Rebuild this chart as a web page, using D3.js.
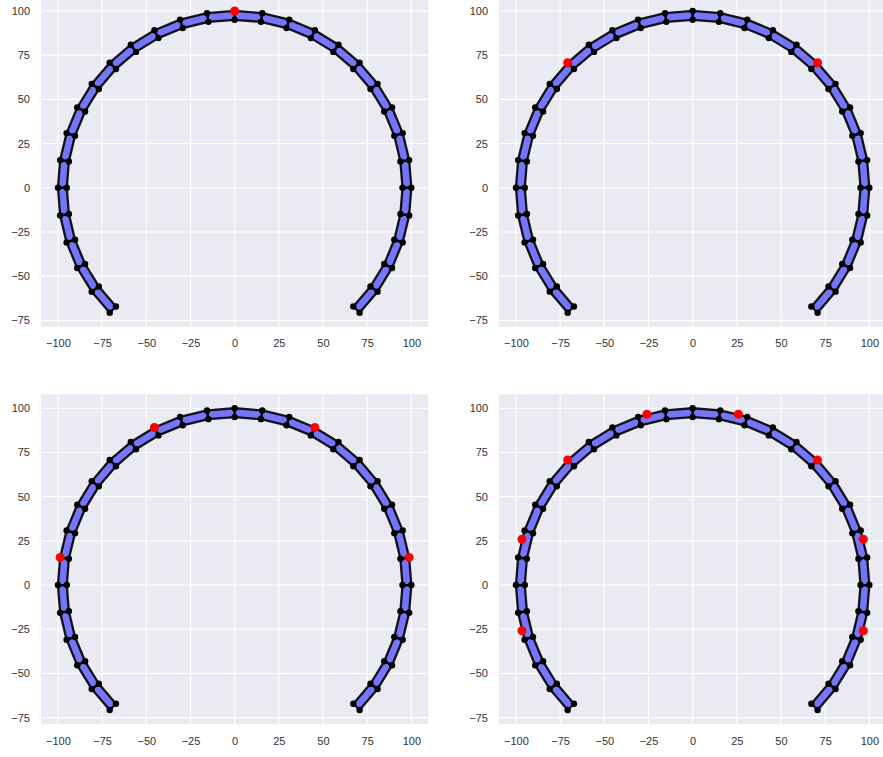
<!DOCTYPE html>
<html>
<head>
<meta charset="utf-8">
<script src="https://cdn.jsdelivr.net/npm/d3@7"></script>
<style>
  body { margin: 0; background: #fff; }
  svg { display: block; }
  .tick text { font-family: "Liberation Sans", Arial, sans-serif; font-size: 11px; fill: #333333; }
</style>
</head>
<body>
<div id="chart"></div>
<script>
const width = 883
const height = 757

// vertex angles (degrees) along the horseshoe, outer and inner radius
const angles = [-45, -36, -27, -18, -9, 0, 9, 18, 27, 36, 45, 54, 63, 72, 81, 90,
    99, 108, 117, 126, 135, 144, 153, 162, 171, 180, 189, 198, 207, 216, 225]
const outerRadius = 100
const innerRadius = 95

// red markers, one list per panel (angles in degrees, on the outer edge)
const redAngles = [
    [90],
    [45, 135],
    [9, 63, 117, 171],
    [-15, 15, 45, 75, 105, 135, 165, 195]
]

const xTicks = [-100, -75, -50, -25, 0, 25, 50, 75, 100]
const yTicks = [-75, -50, -25, 0, 25, 50, 75, 100]
const xDomain = [-109.6, 109.6]
const yDomain = [-78.6, 107.9]

const panel = { w: 387.3, h: 329.7 }
const panelPos = [
    { left: 41, top: -3 },
    { left: 499, top: -3 },
    { left: 41, top: 394.3 },
    { left: 499, top: 394.3 }
]

const svg = d3.select("#chart").append("svg").attr("width", width).attr("height", height)

const x = d3.scaleLinear().domain(xDomain).range([0, panel.w])
const y = d3.scaleLinear().domain(yDomain).range([panel.h, 0])

const rad = a => a * Math.PI / 180
const pt = (r, a) => [r * Math.cos(rad(a)), r * Math.sin(rad(a))]

const outer = angles.map(a => pt(outerRadius, a))
const inner = angles.map(a => pt(innerRadius, a))
const quads = d3.range(angles.length - 1).map(i => [outer[i], outer[i + 1], inner[i + 1], inner[i]])

panelPos.forEach((p, k) => {
    const g = svg.append("g").attr("transform", `translate(${p.left}, ${p.top})`)

    g.append("rect").attr("width", panel.w).attr("height", panel.h).attr("fill", "#EAEAF2")

    g.append("g").selectAll("line").data(xTicks).enter().append("line")
        .attr("x1", d => x(d)).attr("x2", d => x(d))
        .attr("y1", 0).attr("y2", panel.h)
        .attr("stroke", "#fff").attr("stroke-width", 1.1)
    g.append("g").selectAll("line").data(yTicks).enter().append("line")
        .attr("y1", d => y(d)).attr("y2", d => y(d))
        .attr("x1", 0).attr("x2", panel.w)
        .attr("stroke", "#fff").attr("stroke-width", 1.1)

    const xAxis = d3.axisBottom(x).tickValues(xTicks).tickSize(0).tickPadding(13)
    const yAxis = d3.axisLeft(y).tickValues(yTicks).tickSize(0).tickPadding(11)
    const xg = g.append("g").attr("transform", `translate(0, ${panel.h})`).call(xAxis)
    const yg = g.append("g").call(yAxis)
    xg.select(".domain").remove()
    yg.select(".domain").remove()

    const line = d3.line().x(d => x(d[0])).y(d => y(d[1]))
    g.append("g").selectAll("path").data(quads).enter().append("path")
        .attr("d", d => line(d) + "Z")
        .attr("fill", "rgba(0, 0, 255, 0.5)")
        .attr("stroke", "#000")
        .attr("stroke-opacity", 0.9)
        .attr("stroke-width", 2.3)
        .attr("stroke-linejoin", "round")

    g.append("g").selectAll("circle").data(outer.concat(inner)).enter().append("circle")
        .attr("cx", d => x(d[0])).attr("cy", d => y(d[1]))
        .attr("r", 3.2).attr("fill", "#000")

    g.append("g").selectAll("circle").data(redAngles[k].map(a => pt(outerRadius, a))).enter().append("circle")
        .attr("cx", d => x(d[0])).attr("cy", d => y(d[1]))
        .attr("r", 4.5).attr("fill", "#ff0000")
})
</script>
</body>
</html>
